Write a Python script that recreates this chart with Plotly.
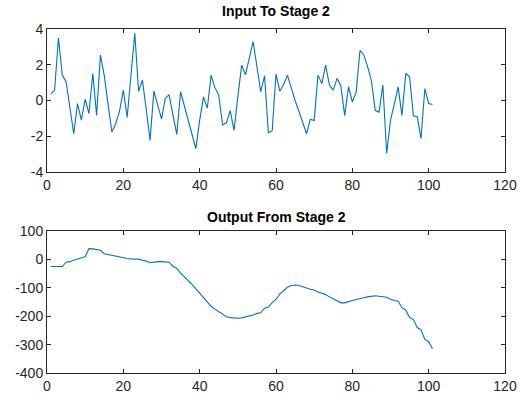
import plotly.graph_objects as go

# ---- data ----
sample_index = list(range(1, 102))

stage2_input = [
    0.35, 0.58, 3.5, 1.42, 1.05, -0.3, -1.86, -0.17, -1.1, 0.07,
    -0.73, 1.51, -0.83, 2.54, 1.4, -0.2, -1.76, -1.3, -0.6, 0.58,
    -0.95, 1.4, 3.76, 0.52, 1.14, -0.5, -2.23, 0.53, -0.25, -1.03,
    0.13, 0.32, -0.8, -1.9, 0.49, -0.3, -1.1, -1.9, -2.7, -1.1,
    0.2, -0.43, 1.42, 0.72, 0.3, -1.37, -1.25, -0.57, -1.67, 0.2,
    1.98, 1.44, 2.3, 3.3, 1.9, 0.49, 1.38, -1.8, -1.7, 1.48,
    0.52, 0.9, 1.42, 0.65, 0.0, -0.6, -1.2, -1.86, -1.05, -1.12,
    1.42, 0.95, 1.98, 0.86, 0.58, 1.24, 0.8, -0.85, 0.77, -0.07,
    0.45, 2.8, 2.55, 1.9, 1.1, -0.55, -0.65, 0.87, -2.96, -1.1,
    -0.2, 0.76, -0.83, 1.51, 1.33, -0.85, -0.9, -2.13, 0.67, -0.17,
    -0.22,
]

stage2_output = [
    -25, -25, -25, -25, -10, -8, -3, 2, 6, 9,
    38, 37, 35, 32, 20, 17, 13, 10, 7, 4,
    3, 2, 2, 1, -3, -6, -12, -9, -8, -8,
    -8, -10, -24, -32, -48, -60, -75, -88, -104, -120,
    -135, -152, -165, -175, -185, -193, -202, -205, -207, -207,
    -206, -203, -200, -196, -190, -188, -172, -168, -152, -141,
    -122, -110, -98, -92, -90, -92, -97, -100, -105, -108,
    -115, -119, -124, -132, -140, -148, -153, -153, -150, -145,
    -141, -139, -135, -132, -130, -128, -130, -131, -133, -140,
    -145, -147, -170, -178, -205, -212, -240, -248, -282, -290,
    -315,
]

x_ticks = [0, 20, 40, 60, 80, 100, 120]
top_y_ticks = [-4, -2, 0, 2, 4]
bottom_y_ticks = [-400, -300, -200, -100, 0, 100]
titles = ["Input To Stage 2", "Output From Stage 2"]

# ---- styling ----
LINE_COLOR = "#0072BD"
AXIS_COLOR = "#262626"
FONT = "Liberation Sans, Arial, sans-serif"

fig = go.Figure()
fig.add_trace(go.Scatter(x=sample_index, y=stage2_input, mode="lines",
                         line=dict(color=LINE_COLOR, width=1.1),
                         xaxis="x", yaxis="y", showlegend=False))
fig.add_trace(go.Scatter(x=sample_index, y=stage2_output, mode="lines",
                         line=dict(color=LINE_COLOR, width=1.1),
                         xaxis="x2", yaxis="y2", showlegend=False))


def axis_style(tickvals, rng, **kw):
    d = dict(
        range=rng, tickvals=tickvals,
        ticktext=[str(v) for v in tickvals],
        showgrid=False, zeroline=False, automargin=False,
        showline=True, linecolor=AXIS_COLOR, linewidth=1,
        mirror="ticks", ticks="inside", ticklen=4, tickwidth=1,
        tickcolor=AXIS_COLOR,
        tickfont=dict(family=FONT, size=14, color=AXIS_COLOR),
    )
    d.update(kw)
    return d


fig.update_layout(
    width=521, height=396,
    margin=dict(l=47, r=16, t=29, b=23),
    paper_bgcolor="white", plot_bgcolor="white",
    xaxis=axis_style(x_ticks, [0, 120], domain=[0, 1], anchor="y"),
    yaxis=axis_style(top_y_ticks, [-4, 4], domain=[0.5843, 1], anchor="x"),
    xaxis2=axis_style(x_ticks, [0, 120], domain=[0, 1], anchor="y2"),
    yaxis2=axis_style(bottom_y_ticks, [-400, 100], domain=[0, 0.4128], anchor="x2"),
    annotations=[
        dict(text=f"<b>{titles[0]}</b>", x=0.5, y=1, xref="paper", yref="paper",
             xanchor="center", yanchor="bottom", yshift=8, showarrow=False,
             font=dict(family=FONT, size=14, color="black")),
        dict(text=f"<b>{titles[1]}</b>", x=0.5, y=0.4128, xref="paper", yref="paper",
             xanchor="center", yanchor="bottom", yshift=4, showarrow=False,
             font=dict(family=FONT, size=14, color="black")),
    ],
)

fig.write_html("out.html", config={"displayModeBar": False},
               post_script="document.body.style.margin='0';")
